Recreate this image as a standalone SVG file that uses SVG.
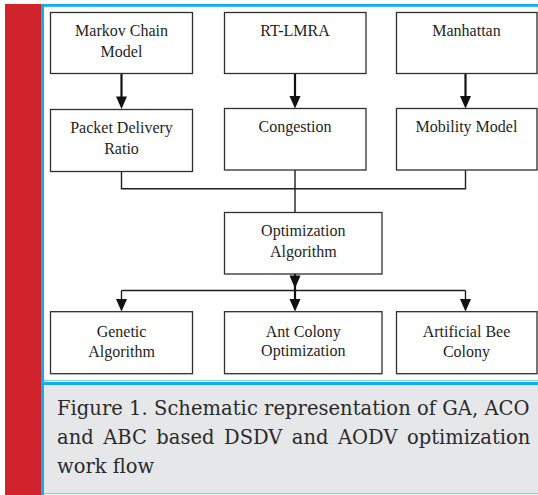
<svg xmlns="http://www.w3.org/2000/svg" width="538" height="495" viewBox="0 0 538 495">
  <style>
    .box { fill: #ffffff; stroke: #2f2f2f; stroke-width: 1.3; }
    .lbl { font-family: "Liberation Serif", "Times New Roman", serif; font-size: 16px; fill: #1e1e1e; text-anchor: middle; }
    .wire { fill: none; stroke: #1e1e1e; stroke-width: 1.4; }
    .shaft { fill: none; stroke: #111111; stroke-width: 2.2; }
    .tip { fill: #111111; }
    .cap { font-family: "DejaVu Serif", "Liberation Serif", serif; font-size: 19.5px; fill: #2a2a2a; }
  </style>

  <!-- page frame -->
  <rect x="0" y="0" width="538" height="495" fill="#ffffff"/>
  <rect x="5" y="4" width="36" height="491" fill="#d0232b"/>
  <rect x="44" y="385" width="494" height="108" fill="#e6e7e9"/>
  <rect x="41" y="4" width="497" height="2.8" fill="#12aeea"/>
  <rect x="41" y="4" width="3" height="491" fill="#12aeea"/>
  <rect x="44" y="380" width="494" height="1" fill="#7fd0f2"/>
  <rect x="44" y="382" width="494" height="3" fill="#12aeea"/>
  <rect x="44" y="493" width="494" height="1.2" fill="#7fd0f2"/>

  <!-- connectors -->
  <g id="connectors">
    <polyline class="wire" points="121.5,171.7 121.5,188.7 465.5,188.7 465.5,170"/>
    <line class="wire" x1="295" y1="170" x2="295" y2="212.5"/>
    <line class="wire" x1="121.5" y1="290.5" x2="465.5" y2="290.5"/>
    <line class="shaft" x1="121.5" y1="73.5" x2="121.5" y2="100"/>
    <path class="tip" d="M116,96.5 L127,96.5 L121.5,109 Z"/>
    <line class="shaft" x1="295" y1="73.5" x2="295" y2="100"/>
    <path class="tip" d="M289.5,96 L300.5,96 L295,108.5 Z"/>
    <line class="shaft" x1="465.5" y1="73.5" x2="465.5" y2="100"/>
    <path class="tip" d="M460,96 L471,96 L465.5,108.5 Z"/>
    <line class="shaft" x1="295" y1="274" x2="295" y2="305"/>
    <path class="tip" d="M289.5,275.5 L300.5,275.5 L295,288.5 Z"/>
    <path class="tip" d="M289.5,299 L300.5,299 L295,311.5 Z"/>
    <line class="wire" x1="121.5" y1="290.5" x2="121.5" y2="302"/>
    <path class="tip" d="M116,299 L127,299 L121.5,311.5 Z"/>
    <line class="wire" x1="465.5" y1="290.5" x2="465.5" y2="302"/>
    <path class="tip" d="M460,299 L471,299 L465.5,311.5 Z"/>
  </g>

  <!-- top row -->
  <g id="markov">
    <rect class="box" x="50.5" y="12.5" width="142" height="61"/>
    <text class="lbl" x="121.5" y="36">Markov Chain</text>
    <text class="lbl" x="121.5" y="56.7">Model</text>
  </g>
  <g id="rtlmra">
    <rect class="box" x="224.5" y="12.5" width="141.5" height="61"/>
    <text class="lbl" x="295" y="35.5">RT-LMRA</text>
  </g>
  <g id="manhattan">
    <rect class="box" x="396.5" y="12.5" width="140.5" height="61"/>
    <text class="lbl" x="466.5" y="35.5">Manhattan</text>
  </g>

  <!-- second row -->
  <g id="pdr">
    <rect class="box" x="50.5" y="109.5" width="142" height="62"/>
    <text class="lbl" x="121.5" y="133.3">Packet Delivery</text>
    <text class="lbl" x="121.5" y="154">Ratio</text>
  </g>
  <g id="congestion">
    <rect class="box" x="224.5" y="108.5" width="141.5" height="61.5"/>
    <text class="lbl" x="295" y="131.5">Congestion</text>
  </g>
  <g id="mobility">
    <rect class="box" x="396.5" y="108.5" width="140.5" height="61.5"/>
    <text class="lbl" x="466.5" y="131.5">Mobility Model</text>
  </g>

  <!-- optimizer -->
  <g id="optimization">
    <rect class="box" x="224.5" y="212.5" width="157.5" height="61.5"/>
    <text class="lbl" x="303.3" y="236">Optimization</text>
    <text class="lbl" x="303.3" y="256.7">Algorithm</text>
  </g>

  <!-- bottom row -->
  <g id="genetic">
    <rect class="box" x="50.5" y="311.7" width="142" height="62"/>
    <text class="lbl" x="121.5" y="336.7">Genetic</text>
    <text class="lbl" x="121.5" y="356.7">Algorithm</text>
  </g>
  <g id="antcolony">
    <rect class="box" x="224.5" y="311.7" width="157.5" height="62"/>
    <text class="lbl" x="303.3" y="336.7">Ant Colony</text>
    <text class="lbl" x="303.3" y="355.7">Optimization</text>
  </g>
  <g id="beecolony">
    <rect class="box" x="396.5" y="311.7" width="140.5" height="62"/>
    <text class="lbl" x="466.5" y="336.7">Artificial Bee</text>
    <text class="lbl" x="466.5" y="356.7">Colony</text>
  </g>

  <!-- caption, first two lines set justified -->
  <text class="cap" x="57" y="415" textLength="472.5" lengthAdjust="spacing">Figure 1. Schematic representation of GA, ACO</text>
  <text class="cap" x="57" y="444" word-spacing="3.3">and ABC based DSDV and AODV optimization</text>
  <text class="cap" x="57" y="473">work flow</text>
</svg>
